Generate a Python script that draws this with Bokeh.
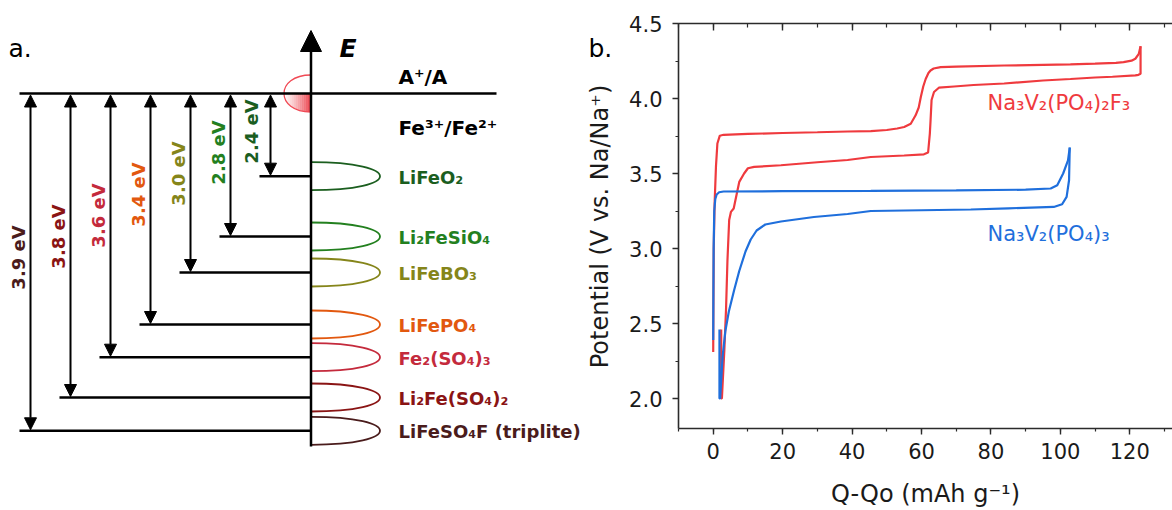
import numpy as np
from bokeh.plotting import figure
from bokeh.models import (ColumnDataSource, Range1d, Arrow, NormalHead, Label,
                          LinearAxis, SingleIntervalTicker, NumeralTickFormatter)
from bokeh.layouts import row
from bokeh.embed import file_html
from bokeh.resources import INLINE
from bokeh.core.properties import value

# ---------------- panel a data ----------------
materials = ["LiFeO₂", "Li₂FeSiO₄", "LiFeBO₃", "LiFePO₄",
             "Fe₂(SO₄)₃", "Li₂Fe(SO₄)₂", "LiFeSO₄F (triplite)"]
gap_ev = [2.4, 2.8, 3.0, 3.4, 3.6, 3.8, 3.9]
gap_labels = ["2.4 eV", "2.8 eV", "3.0 eV", "3.4 eV", "3.6 eV", "3.8 eV", "3.9 eV"]
mat_colors = ["#1b5e1f", "#23801f", "#85851a", "#e2580f",
              "#c42a3c", "#8a1414", "#4a1c1c"]
# schematic depth (not to scale) of each Fe3+/Fe2+ level below A+/A
level_depth = [82.7, 143.0, 179.0, 231.0, 263.7, 304.0, 337.3]

# ---------------- panel b data ----------------
red_charge_q = [0.0, 0.05, 0.15, 0.4, 0.8, 1.2, 1.9, 3.0, 10, 20, 30, 38.7, 45.4, 50, 53, 55,
                56.9, 58.3, 59.2, 59.8, 60.5, 61.2, 62.0, 62.6, 63.5, 65.5, 70, 83.8, 95,
                102.9, 110, 116, 118.2, 120.5, 121.6, 122.6, 123.1]
red_charge_v = [2.31, 2.6, 3.0, 3.3, 3.55, 3.70, 3.752, 3.758, 3.764, 3.77, 3.775, 3.78, 3.782,
                3.79, 3.80, 3.81, 3.832, 3.888, 3.94, 4.01, 4.08, 4.13, 4.17, 4.187, 4.20, 4.209,
                4.213, 4.22, 4.224, 4.227, 4.232, 4.238, 4.242, 4.252, 4.265, 4.298, 4.349]
red_dis_q = [123.1, 123.1, 122.5, 121.6, 115, 110, 102.9, 95, 83.8, 75, 69.4, 65.0, 63.6,
             62.9, 62.6, 62.4, 61.9, 60.7, 55, 45.4, 38.7, 30, 19.5, 11.8, 10.0, 8.9, 7.5,
             6.8, 6.2, 5.9, 5.1, 4.6, 4.1, 3.7, 3.2, 2.5, 2.3, 2.3]
red_dis_v = [4.349, 4.165, 4.158, 4.154, 4.145, 4.14, 4.13, 4.12, 4.10, 4.09, 4.08, 4.072,
             4.043, 3.99, 3.85, 3.766, 3.64, 3.628, 3.62, 3.61, 3.59, 3.575, 3.555, 3.544,
             3.535, 3.50, 3.444, 3.367, 3.30, 3.267, 3.244, 3.19, 2.92, 2.6, 2.32, 2.0, 2.0,
             2.46]
blue_charge_q = [0.0, 0.05, 0.12, 0.3, 0.6, 1.0, 1.7, 3.0, 20, 45.4, 70, 90, 97.2, 99.1,
                 100.8, 102.2, 102.7]
blue_charge_v = [2.39, 2.7, 3.0, 3.25, 3.33, 3.36, 3.375, 3.38, 3.382, 3.384, 3.388, 3.392,
                 3.40, 3.422, 3.50, 3.588, 3.673]
blue_dis_q = [102.7, 102.5, 101.8, 100.5, 98.1, 85, 74.2, 60, 45.4, 38.7, 29, 19.5, 15.0,
              12.5, 10.8, 9.3, 7.5, 6.0, 4.5, 3.5, 2.7, 2.0, 1.8, 1.8]
blue_dis_v = [3.673, 3.455, 3.344, 3.295, 3.277, 3.268, 3.26, 3.255, 3.25, 3.23, 3.21, 3.18,
              3.16, 3.12, 3.06, 2.98, 2.85, 2.72, 2.58, 2.45, 2.28, 2.0, 2.0, 2.46]
RED = "#ef3a3e"
BLUE = "#1f6fdc"
y_title = "Potential (V vs. Na/Na⁺)"
x_title = "Q-Qo (mAh g⁻¹)"

FONT = "DejaVu Sans"

# ================= panel a (schematic) =================
W_A, H = 614, 510
W_B = 1172 - W_A
pa = figure(width=W_A, height=H, x_range=Range1d(0, W_A), y_range=Range1d(H, 0),
            output_backend="svg", toolbar_location=None, min_border=0,
            x_axis_location=None, y_axis_location=None)
pa.grid.visible = False
pa.outline_line_color = None

TOP_Y = 93.0
AXIS_X = 310.5
n = len(materials)
level_y = [TOP_Y + d for d in level_depth]
arrow_x = [270 - 40 * i for i in range(n)]
line_x0 = [ax - 11 for ax in arrow_x]

# red half-ellipse at A+/A (gradient fill approximated by strips)
a_r, b_r = 27.0, 18.5
NS = 14
xs_s, ys_s, al_s = [], [], []
for k in range(NS):
    xa = AXIS_X - a_r + k * a_r / NS
    xb = xa + a_r / NS
    xx = np.linspace(xa, xb, 6)
    yy = TOP_Y + b_r * np.sqrt(np.clip(1 - ((xx - AXIS_X) / a_r) ** 2, 0, 1))
    xs_s.append([xa] + list(xx) + [xb])
    ys_s.append([TOP_Y] + list(yy) + [TOP_Y])
    al_s.append(0.85 * ((k + 1) / NS) ** 1.3)
pa.patches(xs_s, ys_s, fill_color="#e8202c", fill_alpha=al_s, line_color=None)
pa.bezier(x0=[AXIS_X], y0=[TOP_Y - b_r], x1=[AXIS_X], y1=[TOP_Y + b_r],
          cx0=[AXIS_X - a_r * 4 / 3], cy0=[TOP_Y - b_r], cx1=[AXIS_X - a_r * 4 / 3],
          cy1=[TOP_Y + b_r], line_color="#f04a55", line_width=1.3)

# A+/A line and level lines
pa.segment(x0=[19], y0=[TOP_Y], x1=[496], y1=[TOP_Y], line_color="black", line_width=2.5)
pa.segment(x0=line_x0, y0=level_y, x1=[AXIS_X] * n, y1=level_y,
           line_color="black", line_width=2.5)

# density-of-states lobes
half_h = 14.0
pa.bezier(x0=[AXIS_X] * n, y0=[y - half_h for y in level_y],
          x1=[AXIS_X] * n, y1=[y + half_h for y in level_y],
          cx0=[AXIS_X + 92] * n, cy0=[y - half_h for y in level_y],
          cx1=[AXIS_X + 92] * n, cy1=[y + half_h for y in level_y],
          line_color=mat_colors, line_width=1.8)

# energy axis
pa.add_layout(Arrow(x_start=AXIS_X, y_start=446, x_end=AXIS_X, y_end=30,
                    start=None, end=NormalHead(size=21, fill_color="black", line_color="black"),
                    line_width=2.5, line_color="black"))

# double arrows for gaps
arr_src = ColumnDataSource(dict(x=arrow_x, y0=[TOP_Y + 1.5] * n, y1=[y - 1.0 for y in level_y]))
pa.add_layout(Arrow(x_start="x", y_start="y0", x_end="x", y_end="y1", source=arr_src,
                    start=NormalHead(size=12, fill_color="black", line_color="black", line_width=1),
                    end=NormalHead(size=12, fill_color="black", line_color="black", line_width=1),
                    line_width=2, line_color="black"))

# gap labels (rotated)
lab_x = [ax - (19 if i == 0 else 12.5) for i, ax in enumerate(arrow_x)]
lab_y = [131 + 21 * i for i in range(n)]
pa.text(x=lab_x, y=lab_y, text=gap_labels, angle=np.pi / 2, text_align="center",
        text_baseline="middle", text_font=value(FONT), text_font_style="bold",
        text_font_size="18px", text_color=mat_colors)

# material labels
pa.text(x=[398] * n, y=[y + 1 for y in level_y], text=materials, text_align="left",
        text_baseline="middle", text_font=value(FONT), text_font_style="bold",
        text_font_size="18px", text_color=mat_colors)

pa.text(x=[398], y=[76], text=["A⁺/A"], text_baseline="middle", text_font=value(FONT),
        text_font_style="bold", text_font_size="20px", text_color="black")
pa.text(x=[398], y=[127], text=["Fe³⁺/Fe²⁺"], text_baseline="middle", text_font=value(FONT),
        text_font_style="bold", text_font_size="20px", text_color="black")
pa.text(x=[339], y=[48], text=["E"], text_baseline="middle", text_font=value(FONT),
        text_font_style="bold italic", text_font_size="25px", text_color="black")
pa.text(x=[8], y=[48], text=["a."], text_baseline="alphabetic", text_font=value(FONT),
        text_font_size="25px", text_color="black")
# panel b's letter and its y-axis title sit in the strip left of panel b's frame
pa.text(x=[588], y=[48], text=["b."], text_baseline="alphabetic", text_font=value(FONT),
        text_font_size="25px", text_color="black")
pa.text(x=[599], y=[226], text=[y_title], angle=np.pi / 2, text_align="center",
        text_baseline="middle", text_font=value(FONT), text_font_size="24px",
        text_color="#1a1a1a")

# ================= panel b (voltage profiles) =================
pb = figure(width=W_B, height=H, x_range=Range1d(-10, 132.3), y_range=Range1d(1.8, 4.5),
            output_backend="svg", toolbar_location=None,
            min_border_left=678 - W_A, min_border_right=0, min_border_top=23,
            min_border_bottom=81)
pb.grid.visible = False
pb.outline_line_color = None

for fig in (pa, pb):
    try:
        fig.frame_align = False
    except Exception:
        pass

pb.line(red_charge_q, red_charge_v, line_color=RED, line_width=2.2)
pb.line(red_dis_q, red_dis_v, line_color=RED, line_width=2.2)
pb.line(blue_charge_q, blue_charge_v, line_color=BLUE, line_width=2.2)
pb.line(blue_dis_q, blue_dis_v, line_color=BLUE, line_width=2.2)

AX_COL = "#2b2b2b"
for ax in (pb.xaxis[0], pb.yaxis[0]):
    ax.axis_line_color = AX_COL
    ax.axis_line_width = 1.6
    ax.major_tick_line_color = AX_COL
    ax.minor_tick_line_color = AX_COL
    ax.major_tick_line_width = 1.4
    ax.minor_tick_line_width = 1.2
    ax.major_tick_out = 6
    ax.major_tick_in = 0
    ax.minor_tick_out = 3
    ax.minor_tick_in = 0
    ax.major_label_text_font = FONT
    ax.major_label_text_font_size = "21px"
    ax.major_label_text_color = "#1a1a1a"
    ax.axis_label_text_font = FONT
    ax.axis_label_text_font_size = "24px"
    ax.axis_label_text_font_style = "normal"
    ax.axis_label_text_color = "#1a1a1a"

pb.xaxis.ticker = SingleIntervalTicker(interval=20, num_minor_ticks=2)
pb.yaxis.ticker = SingleIntervalTicker(interval=0.5, num_minor_ticks=2)
pb.yaxis.formatter = NumeralTickFormatter(format="0.0")
pb.xaxis.axis_label = x_title
pb.xaxis.major_label_standoff = 8
pb.xaxis.axis_label_standoff = 18
pb.yaxis.major_label_standoff = 10

top_axis = LinearAxis(ticker=SingleIntervalTicker(interval=20, num_minor_ticks=2),
                      major_label_text_font_size="0px", major_label_text_color=None,
                      major_label_standoff=0,
                      major_tick_in=7, major_tick_out=0, minor_tick_in=4, minor_tick_out=0,
                      axis_line_color=AX_COL, axis_line_width=1.6,
                      major_tick_line_color=AX_COL, minor_tick_line_color=AX_COL,
                      major_tick_line_width=1.4, minor_tick_line_width=1.2)
pb.add_layout(top_axis, "above")

pb.add_layout(Label(x=79, y=3.967, text="Na₃V₂(PO₄)₂F₃", text_font=FONT,
                    text_font_size="21px", text_color=RED, text_baseline="middle"))
pb.add_layout(Label(x=79, y=3.096, text="Na₃V₂(PO₄)₃", text_font=FONT,
                    text_font_size="21px", text_color=BLUE, text_baseline="middle"))

layout = row(pa, pb)
open("out.html", "w").write(file_html(layout, INLINE))
